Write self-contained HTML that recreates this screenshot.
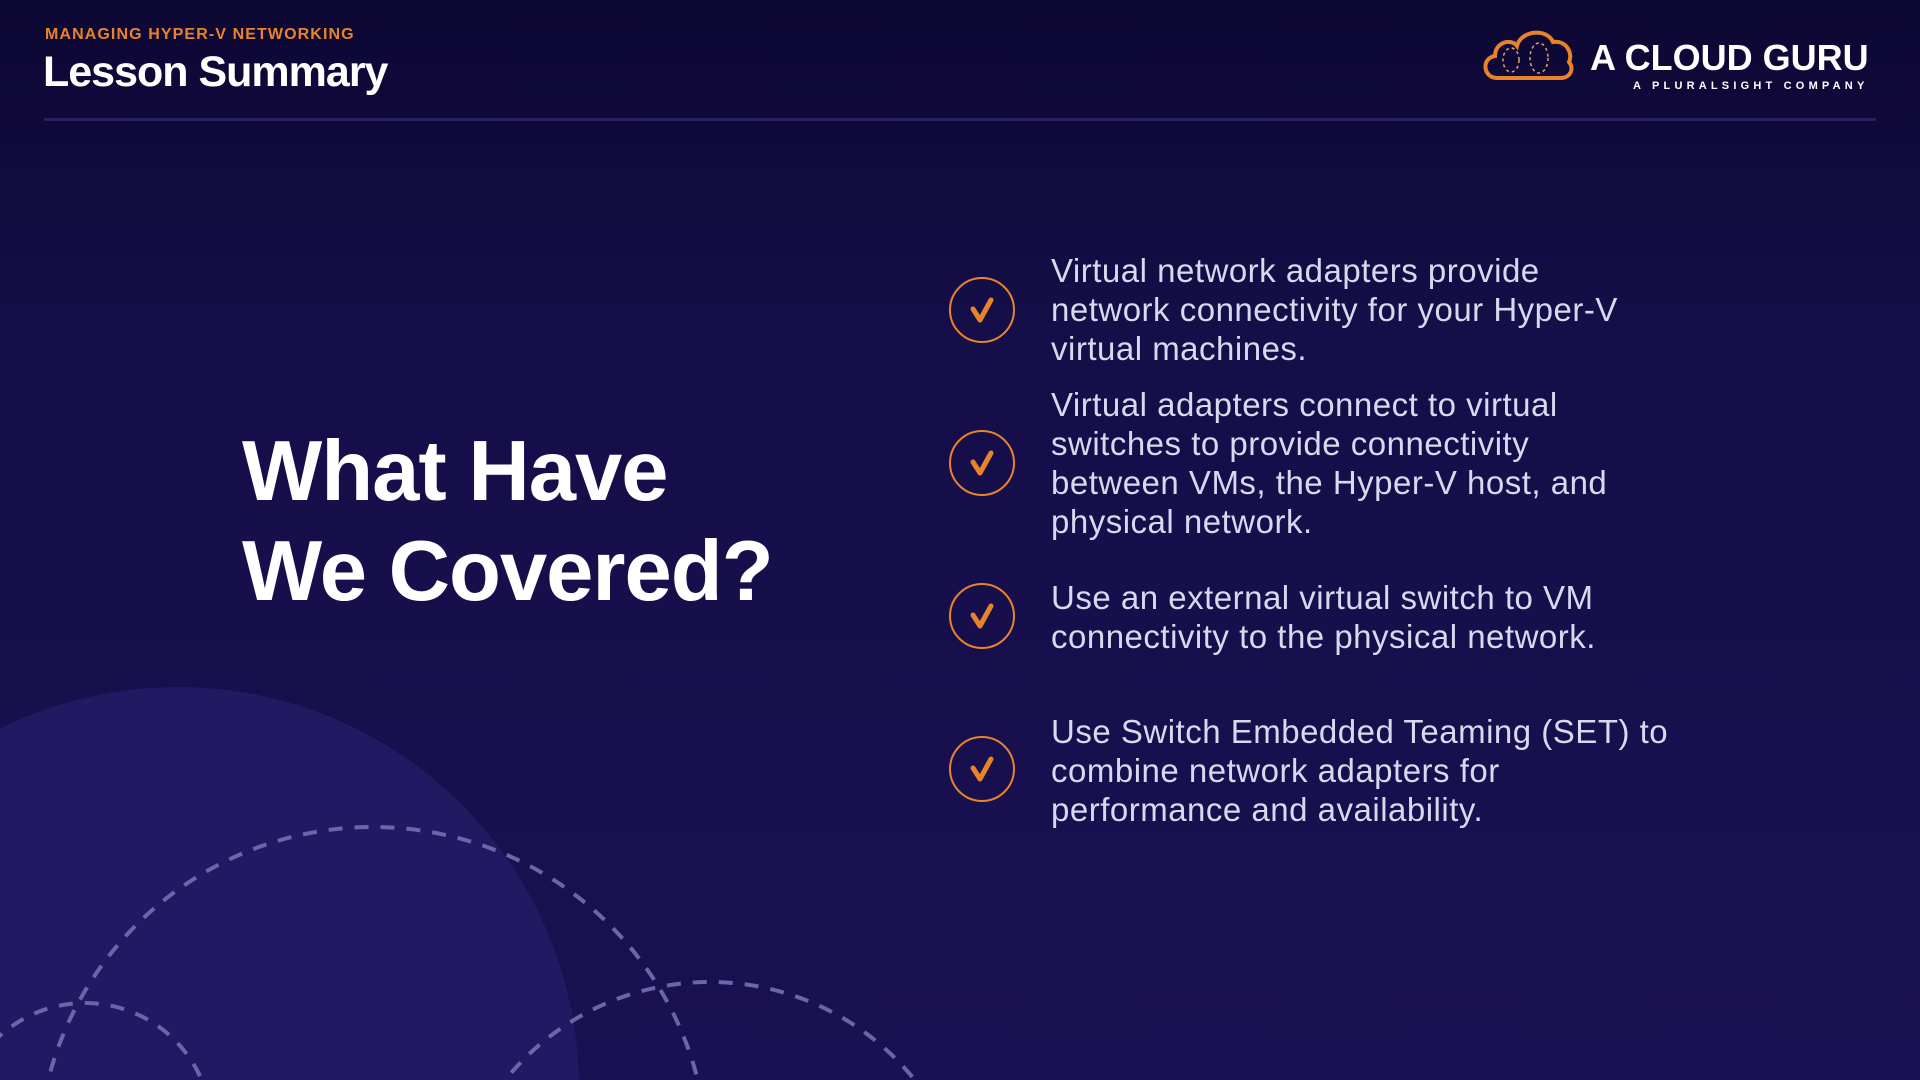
<!DOCTYPE html>
<html><head><meta charset="utf-8"><style>
html,body{margin:0;padding:0;overflow:hidden}
body{width:1920px;height:1080px;overflow:hidden;position:relative;background:linear-gradient(180deg,#0d0733 0%,#150e48 30%,#1a1152 100%);font-family:"Liberation Sans",sans-serif}
.abs{position:absolute}
svg{display:block}
.sub{left:45px;top:26px;color:#e8832c;font-weight:bold;font-size:16px;letter-spacing:1.1px}
.ttl{left:43px;top:48px;color:#fff;font-weight:bold;font-size:43px;letter-spacing:-1px}
.hr{left:44px;top:118px;width:1832px;height:3px;background:#2a2360;border-radius:2px}
.big{left:242px;top:422px;color:#fff;font-weight:bold;font-size:85px;line-height:100px;letter-spacing:-1px}
.item{left:1051px;color:#d8d8ee;font-size:33px;line-height:39px;letter-spacing:0.5px}
.chk{width:66px;height:66px;border:2.5px solid #e8832c;border-radius:50%;box-sizing:border-box}
.logo{left:1590px;top:37px;color:#fff;font-weight:bold;font-size:36px}
.tag{left:1633px;top:80px;color:#fff;font-weight:bold;font-size:11px;letter-spacing:4.2px}
</style></head><body>
<svg class="abs" style="left:0;top:0" width="1920" height="1080">
<circle cx="178" cy="1088" r="401" fill="#211a62"/>
<g fill="none" stroke="#6a66a8" stroke-width="4" stroke-dasharray="14 12">
<circle cx="373" cy="1162" r="335"/>
<circle cx="710" cy="1245" r="263"/>
<circle cx="85" cy="1130" r="127"/>
</g>
<g fill="none" stroke="#e8832c" stroke-linecap="round" stroke-linejoin="round" stroke-width="5">
<path d="M973,309 l7,11 l11,-20"/>
<path d="M973,462 l7,11 l11,-20"/>
<path d="M973,615 l7,11 l11,-20"/>
<path d="M973,768 l7,11 l11,-20"/>
</g>
<g transform="translate(1483,28)">
<path d="M14,50 C0,50 -2,30 12,28 C12,14 28,10 34,18 C38,2 64,0 70,14 C84,12 90,26 86,34 C92,42 86,50 78,50 Z" fill="none" stroke="#e8832c" stroke-width="4"/>
<g fill="none" stroke="#e8a070" stroke-width="1.5" stroke-dasharray="3 3">
<ellipse cx="28" cy="32" rx="8" ry="12"/><ellipse cx="56" cy="30" rx="9" ry="15"/>
</g>
</g>
</svg>
<div class="abs sub">MANAGING HYPER-V NETWORKING</div>
<div class="abs ttl">Lesson Summary</div>
<div class="abs hr"></div>
<div class="abs logo">A CLOUD GURU</div>
<div class="abs tag">A PLURALSIGHT COMPANY</div>
<div class="abs big">What Have<br>We Covered?</div>
<div class="abs chk" style="left:949px;top:277px"></div>
<div class="abs chk" style="left:949px;top:430px"></div>
<div class="abs chk" style="left:949px;top:583px"></div>
<div class="abs chk" style="left:949px;top:736px"></div>
<div class="abs item" style="top:251px">Virtual network adapters provide<br>network connectivity for your Hyper-V<br>virtual machines.</div>
<div class="abs item" style="top:385px">Virtual adapters connect to virtual<br>switches to provide connectivity<br>between VMs, the Hyper-V host, and<br>physical network.</div>
<div class="abs item" style="top:578px">Use an external virtual switch to VM<br>connectivity to the physical network.</div>
<div class="abs item" style="top:712px">Use Switch Embedded Teaming (SET) to<br>combine network adapters for<br>performance and availability.</div>
</body></html>
